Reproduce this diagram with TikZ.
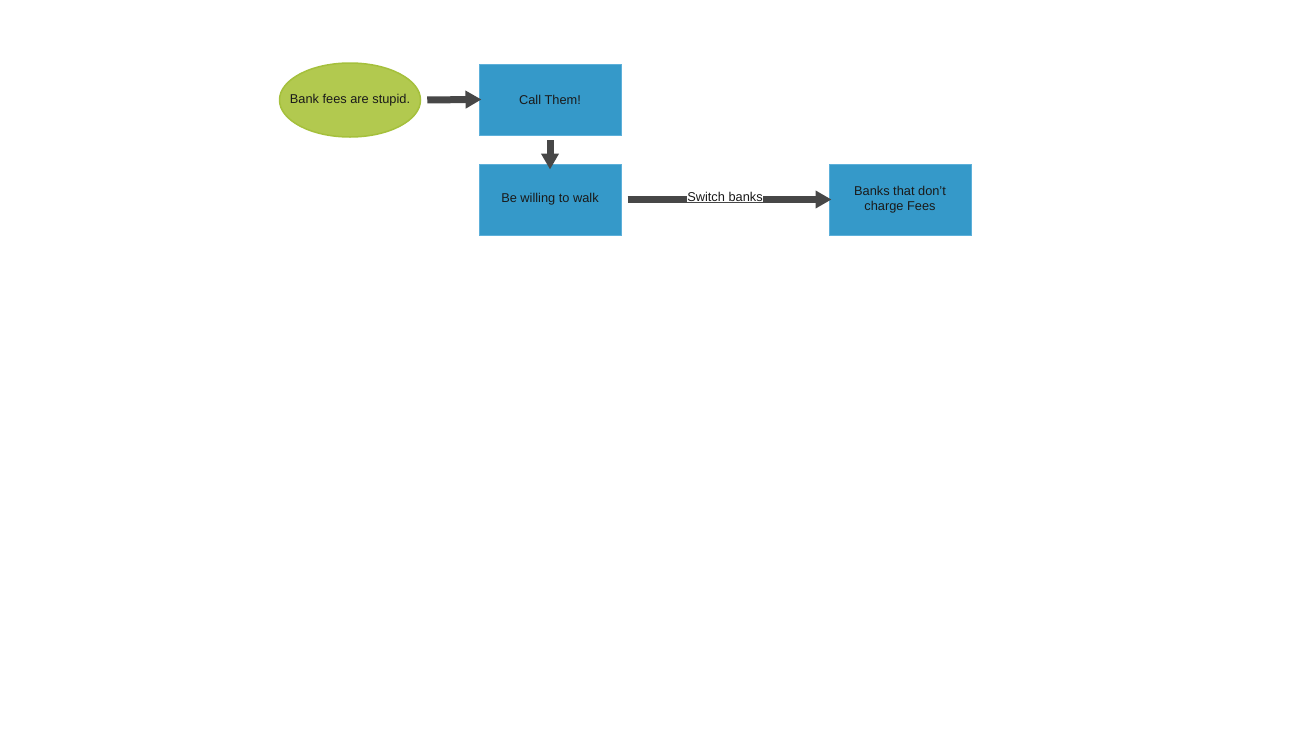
\documentclass[tikz,border=0pt]{standalone}
\usepackage{fontspec}
\setmainfont{Liberation Sans}
\usetikzlibrary{arrows.meta,shapes.geometric}
\definecolor{boxfill}{HTML}{3599C9}
\definecolor{boxline}{HTML}{5DB0DA}
\definecolor{ellfill}{HTML}{B2C94F}
\definecolor{ellline}{HTML}{A5C03C}
\definecolor{arrowc}{HTML}{474747}
\definecolor{txt}{HTML}{1A1A1A}
\tikzset{
  box/.style={rectangle, fill=boxfill, draw=boxline, line width=1pt, minimum width=142pt, minimum height=71pt, inner sep=0pt, align=center, text=txt, font=\fontsize{12.8}{15}\selectfont},
  oval/.style={ellipse, fill=ellfill, draw=ellline, line width=1.5pt, minimum width=141pt, minimum height=74pt, inner xsep=-20pt, inner ysep=0pt, text=txt, font=\fontsize{12.8}{15}\selectfont},
  conn/.style={draw=arrowc, line width=7pt, -{Triangle[length=16pt,width=17pt]}},
  lbl/.style={fill=white, inner sep=0.5pt, text=txt, font=\fontsize{12.8}{14}\selectfont}
}
\begin{document}
\begin{tikzpicture}[x=1pt,y=-1pt]
\useasboundingbox (0,0) rectangle (1300,750);
\node[oval] (bank) at (350,100) {Bank fees are stupid.};
\node[box] (call) at (550,99.5) {Call Them!};
\node[box] (walk) at (550,199.5) {Be willing to walk};
\node[box] (banks) at (900,199.5) {Banks that don't\\charge Fees};
\draw[conn, shorten <=6pt, shorten >=-3pt] (bank.east) -- (call.west);
\draw[conn, shorten <=4.5pt, shorten >=-6pt] (call.south) -- (walk.north);
\draw[conn, shorten <=6pt, shorten >=-3pt] (walk.east) -- node[lbl, yshift=3pt] {Switch banks} (banks.west);
\end{tikzpicture}
\end{document}
